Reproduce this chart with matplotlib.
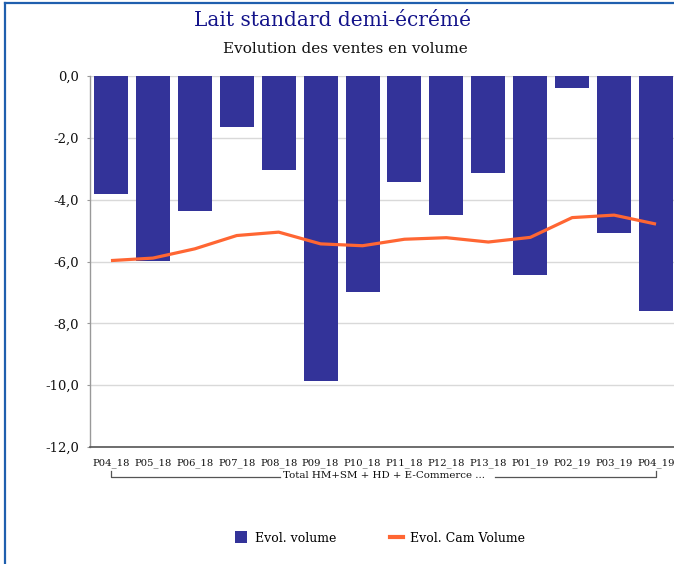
import matplotlib
matplotlib.use("Agg")
import matplotlib.pyplot as plt
import matplotlib.transforms as mtransforms
from matplotlib.lines import Line2D
from matplotlib.patches import Patch

periods = ["P04_18", "P05_18", "P06_18", "P07_18", "P08_18", "P09_18", "P10_18",
           "P11_18", "P12_18", "P13_18", "P01_19", "P02_19", "P03_19", "P04_19"]
evol_volume = [-3.83, -5.97, -4.36, -1.65, -3.05, -9.86, -7.00,
               -3.44, -4.51, -3.15, -6.45, -0.39, -5.09, -7.59]
evol_cam_volume = [-5.97, -5.89, -5.59, -5.16, -5.05, -5.43, -5.49,
                   -5.28, -5.23, -5.37, -5.22, -4.58, -4.50, -4.79]
y_ticks = [0, -2, -4, -6, -8, -10, -12]
group_label = "Total HM+SM + HD + E-Commerce ..."

BAR_COLOR = "#333399"
LINE_COLOR = "#FF6633"
FONT = "DejaVu Serif"

W, H = 674, 564
fig = plt.figure(figsize=(W / 100, H / 100), dpi=100)
fig.patch.set_facecolor("white")

ax = fig.add_axes([90 / W, 1 - 447 / H, 587 / W, 371 / H])
x = list(range(len(periods)))
ax.bar(x, evol_volume, width=0.81, color=BAR_COLOR, zorder=2)
ax.plot(x, evol_cam_volume, color=LINE_COLOR, lw=2.3, zorder=3,
        solid_joinstyle="round", solid_capstyle="butt")

ax.set_xlim(-0.5, len(periods) - 0.5)
ax.set_ylim(-12, 0)
ax.set_yticks(y_ticks)
ax.set_yticklabels([f"{v:.1f}".replace(".", ",") for v in y_ticks],
                   fontsize=9.5, family=FONT, color="#111111")
ax.set_xticks(x)
ax.set_xticklabels(periods, fontsize=7.2, family=FONT, color="#111111")
ax.tick_params(axis="x", length=0, pad=8)
ax.tick_params(axis="y", length=2, width=0.8, color="#999999", pad=6)
ax.grid(axis="y", color="#d9d9d9", lw=1.0, zorder=0)
ax.set_axisbelow(True)
for side in ("top", "right"):
    ax.spines[side].set_visible(False)
ax.spines["left"].set_color("#999999")
ax.spines["left"].set_linewidth(1.0)
ax.spines["bottom"].set_color("#555555")
ax.spines["bottom"].set_linewidth(1.2)

# Grouping bracket under the period labels
blend = mtransforms.blended_transform_factory(ax.transData, fig.transFigure)
y_line = 1 - 476.5 / H
y_top = 1 - 471 / H
grp = fig.text(0.5, y_line, group_label, fontsize=7.4, family=FONT,
               color="#111111", ha="center", va="center")
xc = (x[0] + x[-1]) / 2
grp.set_transform(blend)
grp.set_position((xc, y_line + 1.5 / H))
fig.canvas.draw()
bb = grp.get_window_extent(fig.canvas.get_renderer())
inv = ax.transData.inverted()
gx0 = inv.transform((bb.x0 - 3, 0))[0]
gx1 = inv.transform((bb.x1 + 10, 0))[0]
bracket_kw = dict(color="#555555", lw=0.9, transform=blend, clip_on=False)
fig.add_artist(Line2D([x[0], x[0], gx0], [y_top, y_line, y_line], **bracket_kw))
fig.add_artist(Line2D([gx1, x[-1], x[-1]], [y_line, y_line, y_top], **bracket_kw))

# Titles
fig.text(332 / W, 1 - 20 / H, "Lait standard demi-écrémé", fontsize=14.5,
         family=FONT, color="#14148a", ha="center", va="center")
fig.text(345 / W, 1 - 49 / H, "Evolution des ventes en volume", fontsize=11,
         family=FONT, color="#111111", ha="center", va="center")

# Legend
handles = [Patch(facecolor=BAR_COLOR, edgecolor="none"),
           Line2D([], [], color=LINE_COLOR, lw=3)]
fig.legend(handles, ["Evol. volume", "Evol. Cam Volume"], loc="center",
           bbox_to_anchor=(380 / W, 1 - 538 / H), ncol=2, frameon=False,
           prop={"family": FONT, "size": 9}, handlelength=1.0,
           handleheight=1.1, handletextpad=0.6, columnspacing=4.3)

# Blue frame along the left and top edges
frame_kw = dict(color="#1f5fae", lw=1.6, transform=fig.transFigure)
fig.add_artist(Line2D([5 / W, 5 / W], [0, 1 - 3 / H], **frame_kw))
fig.add_artist(Line2D([5 / W, 1], [1 - 3 / H, 1 - 3 / H], **frame_kw))

fig.savefig("out.png", dpi=100)
